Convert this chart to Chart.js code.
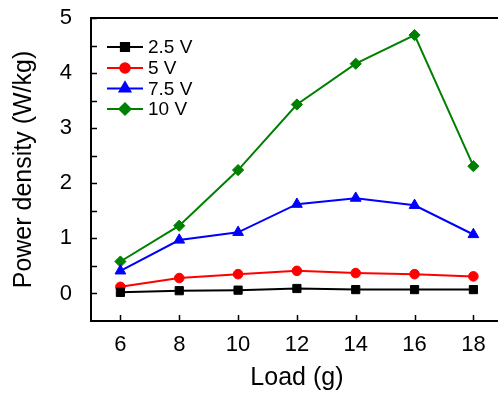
<!DOCTYPE html>
<html>
<head>
<meta charset="utf-8">
<script src="https://cdn.jsdelivr.net/npm/chart.js@4.4.1/dist/chart.umd.min.js"></script>
<style>
  html, body { margin: 0; padding: 0; background: #fff; }
  #wrap { width: 498px; height: 396px; overflow: hidden; position: relative; }
  #chart { display: block; }
</style>
</head>
<body>
<div id="wrap"><canvas id="chart" width="510" height="396"></canvas></div>
<script>
// data
const loads = [6, 8, 10, 12, 14, 16, 18]
const v25 = [0.02, 0.05, 0.06, 0.09, 0.07, 0.07, 0.07]
const v5 = [0.12, 0.28, 0.35, 0.41, 0.37, 0.35, 0.31]
const v75 = [0.41, 0.97, 1.11, 1.62, 1.73, 1.60, 1.07]
const v10 = [0.58, 1.23, 2.24, 3.43, 4.17, 4.69, 2.31]
const seriesNames = ['2.5 V', '5 V', '7.5 V', '10 V']
const xTicks = [6, 8, 10, 12, 14, 16, 18]
const yTicks = [0, 1, 2, 3, 4, 5]
const yMinor = [0.5, 1.5, 2.5, 3.5, 4.5]

const FONT = 'Arial, "Liberation Sans", sans-serif'

const styles = [
  { color: '#000000', shape: 'rect', r: 5.8 },
  { color: '#ff0000', shape: 'circle', r: 4.8 },
  { color: '#0000ff', shape: 'triangle', r: 6.2 },
  { color: '#008000', shape: 'rectRot', r: 5.6 }
]

const toPoints = arr => arr.map((y, i) => ({ x: loads[i], y }))

const datasets = [v25, v5, v75, v10].map((vals, i) => ({
  label: seriesNames[i],
  data: toPoints(vals),
  borderColor: styles[i].color,
  backgroundColor: styles[i].color,
  borderWidth: 2,
  pointStyle: styles[i].shape,
  pointRadius: styles[i].r,
  pointHoverRadius: styles[i].r,
  pointBorderWidth: 1,
  tension: 0
}))

// keep the plot box where it is in the reference, whatever the label sizes
function fixScale(s, size) {
  if (s.isHorizontal()) s.height = size
  else s.width = size
  s.paddingTop = 0
  s.paddingBottom = 0
  s.paddingLeft = 0
  s.paddingRight = 0
}

// frame, inward ticks and the in-plot legend
const framePlugin = {
  id: 'frame',
  afterDraw(chart) {
    const { ctx, chartArea: a, scales } = chart
    ctx.save()
    ctx.strokeStyle = '#000'
    ctx.lineWidth = 2
    ctx.strokeRect(a.left, a.top, a.right - a.left, a.bottom - a.top)

    ctx.lineWidth = 1.5
    ctx.beginPath()
    yTicks.concat(yMinor).forEach(v => {
      const py = Math.round(scales.y.getPixelForValue(v)) + 0.5
      ctx.moveTo(a.left, py)
      ctx.lineTo(a.left + 6, py)
    })
    xTicks.forEach(v => {
      const px = Math.round(scales.x.getPixelForValue(v)) + 0.5
      ctx.moveTo(px, a.bottom)
      ctx.lineTo(px, a.bottom - 6)
    })
    ctx.stroke()

    // legend
    const rows = [47, 68, 88.5, 109]
    ctx.font = '19px ' + FONT
    ctx.textBaseline = 'middle'
    ctx.textAlign = 'left'
    chart.data.datasets.forEach((ds, i) => {
      const y = rows[i]
      ctx.strokeStyle = ds.borderColor
      ctx.fillStyle = ds.borderColor
      ctx.lineWidth = 2
      ctx.beginPath()
      ctx.moveTo(107, y)
      ctx.lineTo(143, y)
      ctx.stroke()
      Chart.helpers.drawPoint(ctx, {
        pointStyle: ds.pointStyle, radius: ds.pointRadius, rotation: 0, borderWidth: 1
      }, 125, y)
      ctx.fillStyle = '#000'
      ctx.fillText(ds.label, 148, y + 1)
    })
    ctx.restore()
  }
}

new Chart(document.getElementById('chart'), {
  type: 'line',
  data: { datasets },
  options: {
    responsive: false,
    animation: false,
    events: [],
    layout: { padding: { left: 0, top: 18, right: 5.5, bottom: 0 } },
    plugins: { legend: { display: false }, tooltip: { enabled: false } },
    scales: {
      x: {
        type: 'linear',
        min: 5, max: 19,
        afterBuildTicks: s => { s.ticks = xTicks.map(v => ({ value: v })) },
        afterFit: s => fixScale(s, 75),
        grid: { display: false, drawTicks: false },
        border: { display: false },
        ticks: { color: '#000', padding: 11, font: { family: FONT, size: 22 } },
        title: {
          display: true, text: 'Load (g)', color: '#000',
          font: { family: FONT, size: 25 }, padding: { top: 0, bottom: 3 }
        }
      },
      y: {
        min: -0.5, max: 5,
        afterBuildTicks: s => { s.ticks = yTicks.map(v => ({ value: v })) },
        afterFit: s => fixScale(s, 91),
        grid: { display: false, drawTicks: false },
        border: { display: false },
        ticks: { color: '#000', padding: 19, font: { family: FONT, size: 22 } },
        title: {
          display: true, text: 'Power density (W/kg)', color: '#000',
          font: { family: FONT, size: 25 }, padding: { top: 9.5, bottom: 0 }
        }
      }
    }
  },
  plugins: [framePlugin]
})
</script>
</body>
</html>
